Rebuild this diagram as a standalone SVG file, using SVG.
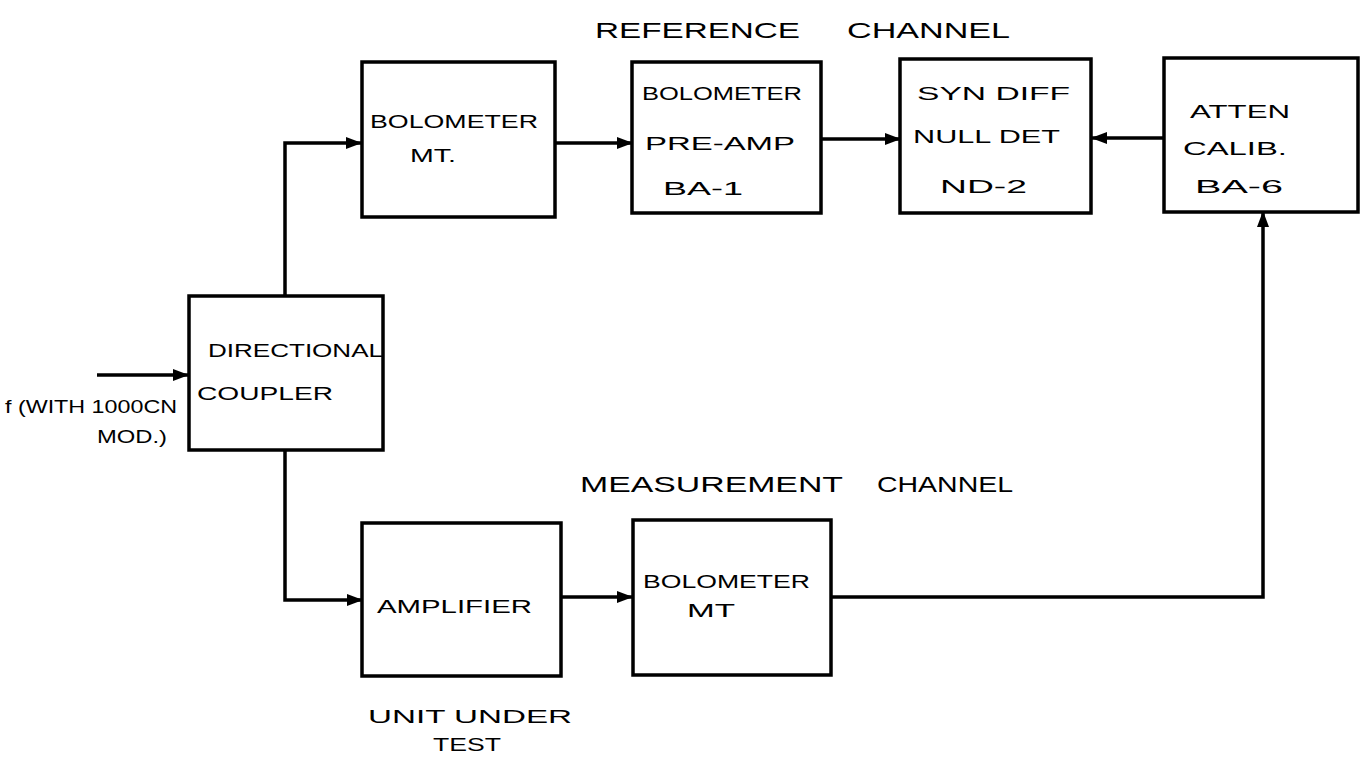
<svg xmlns="http://www.w3.org/2000/svg" width="1363" height="759" viewBox="0 0 1363 759">
<style>
.box{fill:#fff;stroke:#000;stroke-width:3.5}
.ln{fill:none;stroke:#000;stroke-width:3.5}
text{font-family:"Liberation Sans","DejaVu Sans",sans-serif;font-size:19px;fill:#000}
.lbl{font-size:22px}
</style>
<defs>
<marker id="ah" markerWidth="16" markerHeight="12" refX="15" refY="6" orient="auto" markerUnits="userSpaceOnUse">
<path d="M0,0 L16,6 L0,12 Z" fill="#000"/>
</marker>
</defs>
<rect width="1363" height="759" fill="#fff"/>
<g id="connectors">
<path class="ln" d="M97,375 L188,375" marker-end="url(#ah)"/>
<path class="ln" d="M285,295 L285,143 L361,143" marker-end="url(#ah)"/>
<path class="ln" d="M555,143 L632,143" marker-end="url(#ah)"/>
<path class="ln" d="M821,139 L900,139" marker-end="url(#ah)"/>
<path class="ln" d="M1164,138 L1092,138" marker-end="url(#ah)"/>
<path class="ln" d="M285,450 L285,600 L362,600" marker-end="url(#ah)"/>
<path class="ln" d="M561,597 L632,597" marker-end="url(#ah)"/>
<path class="ln" d="M831,597 L1263,597 L1263,212" marker-end="url(#ah)"/>
</g>
<g id="labels">
<text class="lbl" x="595" y="38" textLength="205" lengthAdjust="spacingAndGlyphs">REFERENCE</text>
<text class="lbl" x="847" y="38" textLength="163" lengthAdjust="spacingAndGlyphs">CHANNEL</text>
<text class="lbl" x="580" y="492" textLength="263" lengthAdjust="spacingAndGlyphs">MEASUREMENT</text>
<text class="lbl" x="877" y="492" textLength="136" lengthAdjust="spacingAndGlyphs">CHANNEL</text>
<text x="368" y="723" textLength="204" lengthAdjust="spacingAndGlyphs">UNIT UNDER</text>
<text x="433" y="751" textLength="68" lengthAdjust="spacingAndGlyphs">TEST</text>
<text x="5" y="413" textLength="172" lengthAdjust="spacingAndGlyphs">f (WITH 1000CN</text>
<text x="97" y="443" textLength="70" lengthAdjust="spacingAndGlyphs">MOD.)</text>
</g>
<g id="coupler">
<rect class="box" x="189" y="296" width="194" height="154"/>
<text x="208" y="357" textLength="175" lengthAdjust="spacingAndGlyphs">DIRECTIONAL</text>
<text x="197" y="400" textLength="136" lengthAdjust="spacingAndGlyphs">COUPLER</text>
</g>
<g id="bolometer-mt">
<rect class="box" x="362" y="62" width="193" height="155"/>
<text x="370" y="128" textLength="168" lengthAdjust="spacingAndGlyphs">BOLOMETER</text>
<text x="410" y="162" textLength="46" lengthAdjust="spacingAndGlyphs">MT.</text>
</g>
<g id="preamp">
<rect class="box" x="632" y="62" width="189" height="151"/>
<text x="642" y="100" textLength="160" lengthAdjust="spacingAndGlyphs">BOLOMETER</text>
<text x="645" y="150" textLength="150" lengthAdjust="spacingAndGlyphs">PRE-AMP</text>
<text x="663" y="195" textLength="80" lengthAdjust="spacingAndGlyphs">BA-1</text>
</g>
<g id="null-det">
<rect class="box" x="900" y="59" width="191" height="154"/>
<text x="917" y="100" textLength="153" lengthAdjust="spacingAndGlyphs">SYN DIFF</text>
<text x="913" y="143" textLength="147" lengthAdjust="spacingAndGlyphs">NULL DET</text>
<text x="940" y="193" textLength="87" lengthAdjust="spacingAndGlyphs">ND-2</text>
</g>
<g id="atten">
<rect class="box" x="1164" y="58" width="194" height="154"/>
<text x="1190" y="118" textLength="100" lengthAdjust="spacingAndGlyphs">ATTEN</text>
<text x="1183" y="155" textLength="104" lengthAdjust="spacingAndGlyphs">CALIB.</text>
<text x="1195" y="193" textLength="88" lengthAdjust="spacingAndGlyphs">BA-6</text>
</g>
<g id="amplifier">
<rect class="box" x="362" y="523" width="199" height="153"/>
<text x="377" y="613" textLength="155" lengthAdjust="spacingAndGlyphs">AMPLIFIER</text>
</g>
<g id="bolometer-mt-2">
<rect class="box" x="633" y="520" width="198" height="155"/>
<text x="643" y="588" textLength="167" lengthAdjust="spacingAndGlyphs">BOLOMETER</text>
<text x="687" y="617" textLength="48" lengthAdjust="spacingAndGlyphs">MT</text>
</g>
</svg>
